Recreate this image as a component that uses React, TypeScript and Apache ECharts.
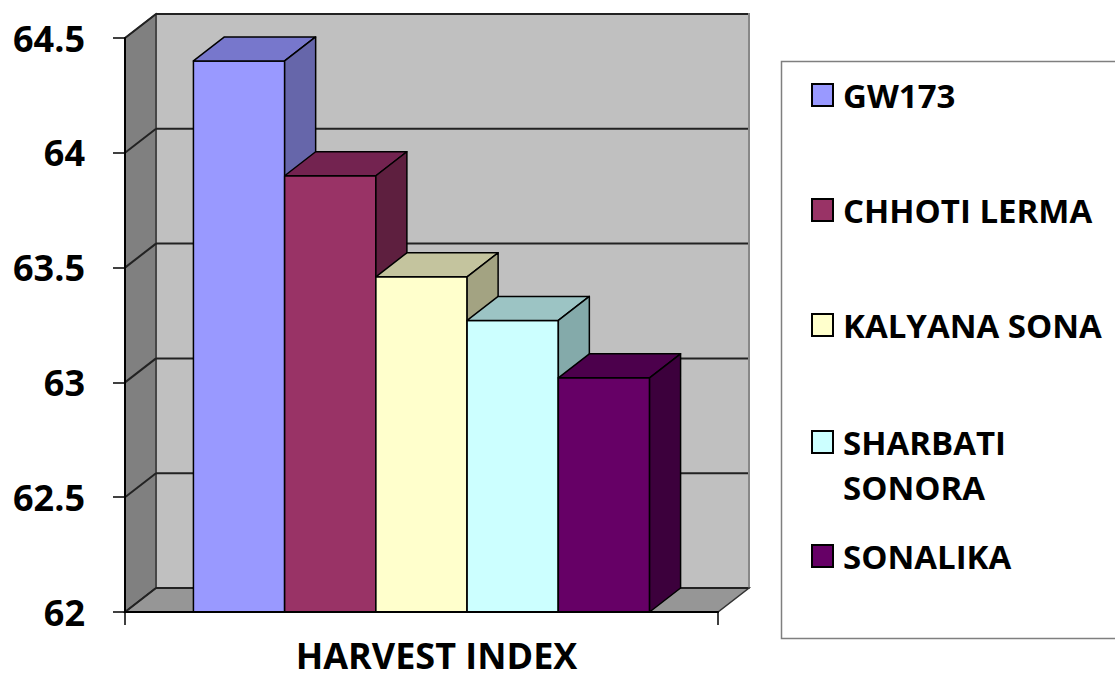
import React, { useEffect, useRef } from "react";
import * as echarts from "echarts";

// ---- data ----
const categories = ["HARVEST INDEX"];
const varieties = ["GW173", "CHHOTI LERMA", "KALYANA SONA", "SHARBATI SONORA", "SONALIKA"];
const values = [64.4, 63.9, 63.46, 63.27, 63.02];
const yTicks = [62, 62.5, 63, 63.5, 64, 64.5];

// ---- styles ----
const frontColors = ["#9999FF", "#993366", "#FFFFCC", "#CCFFFF", "#660066"];
const topColors = ["#7777CC", "#732350", "#C4C49E", "#9CC4C4", "#4C004C"];
const sideColors = ["#6666AA", "#5E1F3F", "#A3A382", "#84AAAA", "#3C003C"];
const legendCenters = [95, 210, 325, 442, 556];
const FONT = "Open Sans";
const DX = 31;
const DY = -24;
const GAP = 1.5;

export default function App() {
  const ref = useRef<HTMLDivElement>(null);
  useEffect(() => {
    document.body.style.margin = "0";
    if (!ref.current) return;
    const chart = echarts.init(ref.current, null, { renderer: "svg" });
    const n = varieties.length;
    const yMin = yTicks[0];
    const yMax = yTicks[yTicks.length - 1];

    const wallSeries: any = {
      type: "custom",
      name: "walls",
      silent: true,
      z: 1,
      data: [[0, yMin]],
      renderItem: (params: any, api: any) => {
        const cs = params.coordSys;
        const x0 = cs.x;
        const x1 = cs.x + cs.width;
        const yT = api.coord([0, yMax])[1];
        const yB = api.coord([0, yMin])[1];
        const children: any[] = [
          {
            type: "polygon",
            shape: { points: [[x0 + DX, yT + DY], [x1 + DX, yT + DY], [x1 + DX, yB + DY], [x0 + DX, yB + DY]] },
            style: { fill: "#C0C0C0", stroke: "#888888", lineWidth: 2 },
          },
          {
            type: "polygon",
            shape: { points: [[x0, yT], [x0 + DX, yT + DY], [x0 + DX, yB + DY], [x0, yB]] },
            style: { fill: "#808080", stroke: "#333333", lineWidth: 1.5 },
          },
          {
            type: "polygon",
            shape: { points: [[x0, yB], [x0 + DX, yB + DY], [x1 + DX, yB + DY], [x1, yB]] },
            style: { fill: "#969696", stroke: "#333333", lineWidth: 1.5 },
          },
        ];
        yTicks.forEach((t) => {
          const y = api.coord([0, t])[1];
          children.push({
            type: "line",
            shape: { x1: x0 + DX, y1: y + DY, x2: x1 + DX - 1, y2: y + DY },
            style: { stroke: "#222222", lineWidth: 2 },
          });
          children.push({
            type: "line",
            shape: { x1: x0, y1: y, x2: x0 + DX, y2: y + DY },
            style: { stroke: "#222222", lineWidth: 2 },
          });
        });
        return { type: "group", children };
      },
    };

    const barSeries = varieties.map((name, i) => ({
      type: "custom",
      name,
      z: 2,
      itemStyle: { color: frontColors[i] },
      data: [[0, values[i]]],
      renderItem: (params: any, api: any) => {
        const c = api.coord([api.value(0), api.value(1)]);
        const base = api.coord([api.value(0), yMin])[1];
        const band = api.size([1, 0])[0];
        const w = band / (n + GAP);
        const xL = c[0] - (n / 2) * w + i * w;
        const xR = xL + w;
        const yTop = c[1];
        const st = { stroke: "#000000", lineWidth: 1.5, lineJoin: "round" };
        return {
          type: "group",
          children: [
            {
              type: "polygon",
              shape: { points: [[xL, yTop], [xR, yTop], [xR, base], [xL, base]] },
              style: { ...st, fill: frontColors[i] },
            },
            {
              type: "polygon",
              shape: { points: [[xL, yTop], [xL + DX, yTop + DY], [xR + DX, yTop + DY], [xR, yTop]] },
              style: { ...st, fill: topColors[i] },
            },
            {
              type: "polygon",
              shape: { points: [[xR, yTop], [xR + DX, yTop + DY], [xR + DX, base + DY], [xR, base]] },
              style: { ...st, fill: sideColors[i] },
            },
          ],
        };
      },
    }));

    const legends = varieties.map((name, i) => {
      const multi = name === "SHARBATI SONORA";
      const lh = multi ? 45 : 40;
      return {
        show: true,
        left: 811,
        top: multi ? legendCenters[i] - 1.5 * lh : legendCenters[i] - lh / 2,
        padding: 0,
        itemWidth: 21,
        itemHeight: 22,
        selectedMode: false,
        icon: "rect",
        data: [{ name, itemStyle: { color: frontColors[i], borderColor: "#000", borderWidth: 2 } }],
        itemStyle: { borderColor: "#000", borderWidth: 2 },
        formatter: multi ? () => "\nSHARBATI\nSONORA" : undefined,
        textStyle: {
          fontFamily: FONT,
          fontWeight: "bold",
          fontSize: 33,
          color: "#000",
          lineHeight: lh,
          padding: [0, 0, 0, 5],
        },
      };
    });

    chart.setOption({
      animation: false,
      backgroundColor: "#FFFFFF",
      grid: { left: 125, top: 38, width: 593, height: 574 },
      xAxis: {
        type: "category",
        data: categories,
        boundaryGap: true,
        axisLine: { show: true, lineStyle: { color: "#000", width: 2 } },
        axisTick: { show: true, length: 13, alignWithLabel: false, lineStyle: { color: "#000", width: 1.5 } },
        axisLabel: {
          fontFamily: FONT,
          fontWeight: "bold",
          fontSize: 36,
          lineHeight: 36,
          color: "#000",
          margin: 25,
          padding: [0, 0, 0, 30],
        },
        splitLine: { show: false },
        z: 5,
      },
      yAxis: {
        type: "value",
        min: yMin,
        max: yMax,
        interval: 0.5,
        axisLine: { show: true, lineStyle: { color: "#000", width: 2 } },
        axisTick: { show: true, length: 12, lineStyle: { color: "#000", width: 1.5 } },
        axisLabel: {
          fontFamily: FONT,
          fontWeight: "bold",
          fontSize: 36,
          color: "#000",
          margin: 40,
        },
        splitLine: { show: false },
        z: 5,
      },
      legend: legends,
      graphic: [
        {
          type: "rect",
          left: 779,
          top: 59,
          shape: { width: 345, height: 577 },
          style: { fill: "none", stroke: "#7F7F7F", lineWidth: 1.5 },
          z: 0,
        },
      ],
      series: [wallSeries, ...barSeries],
    });
    return () => chart.dispose();
  }, []);
  return <div ref={ref} style={{ width: 1115, height: 681 }} />;
}
